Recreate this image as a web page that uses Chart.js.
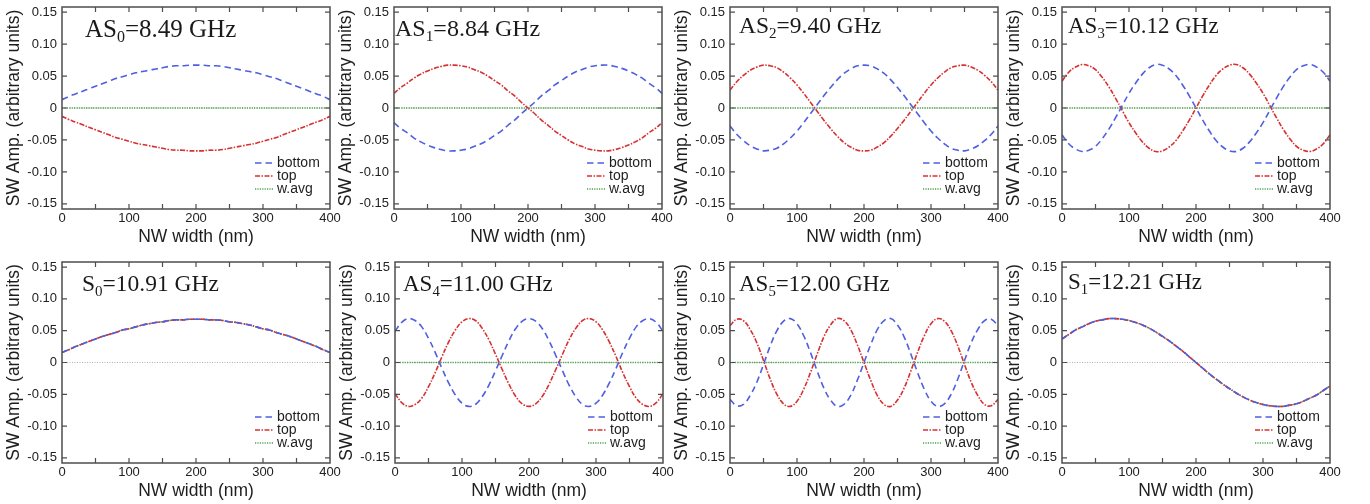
<!DOCTYPE html>
<html>
<head>
<meta charset="utf-8">
<script src="https://cdn.jsdelivr.net/npm/chart.js@4.4.1/dist/chart.umd.min.js"></script>
<style>
  html, body { margin: 0; padding: 0; background: #fff; }
  body { width: 1370px; height: 504px; position: relative; overflow: hidden; }
  canvas { position: absolute; }
</style>
</head>
<body>
<script>
// NW width sample positions (nm)
var widths = [0,10,20,30,40,50,60,70,80,90,100,110,120,130,140,150,160,170,180,190,200,
              210,220,230,240,250,260,270,280,290,300,310,320,330,340,350,360,370,380,390,400];

// SW amplitude (bottom / top / weighted average)
var as0_bottom = [0.013,0.018,0.022,0.026,0.030,0.034,0.038,0.042,0.046,0.049,0.052,0.055,0.057,0.059,0.061,0.063,0.065,0.066,0.066,0.067,0.067,0.067,0.066,0.066,0.065,0.063,0.061,0.059,0.057,0.055,0.052,0.049,0.046,0.042,0.038,0.034,0.030,0.026,0.022,0.018,0.013];
var as0_top = [-0.013,-0.018,-0.022,-0.026,-0.030,-0.034,-0.038,-0.042,-0.046,-0.049,-0.052,-0.055,-0.057,-0.059,-0.061,-0.063,-0.065,-0.066,-0.066,-0.067,-0.067,-0.067,-0.066,-0.066,-0.065,-0.063,-0.061,-0.059,-0.057,-0.055,-0.052,-0.049,-0.046,-0.042,-0.038,-0.034,-0.030,-0.026,-0.022,-0.018,-0.013];
var as0_avg = [0,0,0,0,0,0,0,0,0,0,0,0,0,0,0,0,0,0,0,0,0,0,0,0,0,0,0,0,0,0,0,0,0,0,0,0,0,0,0,0,0];

var as1_bottom = [-0.023,-0.032,-0.039,-0.047,-0.053,-0.058,-0.062,-0.065,-0.067,-0.067,-0.066,-0.064,-0.060,-0.056,-0.050,-0.043,-0.036,-0.027,-0.019,-0.009,0,0.009,0.019,0.027,0.036,0.043,0.050,0.056,0.060,0.064,0.066,0.067,0.067,0.065,0.062,0.058,0.053,0.047,0.039,0.032,0.023];
var as1_top = [0.023,0.032,0.039,0.047,0.053,0.058,0.062,0.065,0.067,0.067,0.066,0.064,0.060,0.056,0.050,0.043,0.036,0.027,0.019,0.009,0,-0.009,-0.019,-0.027,-0.036,-0.043,-0.050,-0.056,-0.060,-0.064,-0.066,-0.067,-0.067,-0.065,-0.062,-0.058,-0.053,-0.047,-0.039,-0.032,-0.023];
var as1_avg = [0,0,0,0,0,0,0,0,0,0,0,0,0,0,0,0,0,0,0,0,0,0,0,0,0,0,0,0,0,0,0,0,0,0,0,0,0,0,0,0,0];

var as2_bottom = [-0.028,-0.041,-0.051,-0.059,-0.064,-0.067,-0.066,-0.063,-0.056,-0.047,-0.036,-0.023,-0.009,0.005,0.019,0.032,0.044,0.054,0.061,0.066,0.067,0.066,0.061,0.054,0.044,0.032,0.019,0.005,-0.009,-0.023,-0.036,-0.047,-0.056,-0.063,-0.066,-0.067,-0.064,-0.059,-0.051,-0.041,-0.028];
var as2_top = [0.028,0.041,0.051,0.059,0.064,0.067,0.066,0.063,0.056,0.047,0.036,0.023,0.009,-0.005,-0.019,-0.032,-0.044,-0.054,-0.061,-0.066,-0.067,-0.066,-0.061,-0.054,-0.044,-0.032,-0.019,-0.005,0.009,0.023,0.036,0.047,0.056,0.063,0.066,0.067,0.064,0.059,0.051,0.041,0.028];
var as2_avg = [0,0,0,0,0,0,0,0,0,0,0,0,0,0,0,0,0,0,0,0,0,0,0,0,0,0,0,0,0,0,0,0,0,0,0,0,0,0,0,0,0];

var as3_bottom = [-0.042,-0.056,-0.064,-0.068,-0.066,-0.060,-0.048,-0.033,-0.015,0.004,0.023,0.039,0.053,0.063,0.068,0.067,0.061,0.051,0.036,0.019,0,-0.019,-0.036,-0.051,-0.061,-0.067,-0.068,-0.063,-0.053,-0.039,-0.023,-0.004,0.015,0.033,0.048,0.060,0.066,0.068,0.064,0.056,0.042];
var as3_top = [0.042,0.056,0.064,0.068,0.066,0.060,0.048,0.033,0.015,-0.004,-0.023,-0.039,-0.053,-0.063,-0.068,-0.067,-0.061,-0.051,-0.036,-0.019,0,0.019,0.036,0.051,0.061,0.067,0.068,0.063,0.053,0.039,0.023,0.004,-0.015,-0.033,-0.048,-0.060,-0.066,-0.068,-0.064,-0.056,-0.042];
var as3_avg = [0,0,0,0,0,0,0,0,0,0,0,0,0,0,0,0,0,0,0,0,0,0,0,0,0,0,0,0,0,0,0,0,0,0,0,0,0,0,0,0,0];

var s0_bottom = [0.016,0.020,0.025,0.029,0.033,0.037,0.041,0.044,0.047,0.051,0.053,0.056,0.059,0.061,0.063,0.064,0.066,0.067,0.067,0.068,0.068,0.068,0.067,0.067,0.066,0.064,0.063,0.061,0.059,0.056,0.053,0.051,0.047,0.044,0.041,0.037,0.033,0.029,0.025,0.020,0.016];
var s0_top = [0.016,0.020,0.025,0.029,0.033,0.037,0.041,0.044,0.047,0.051,0.053,0.056,0.059,0.061,0.063,0.064,0.066,0.067,0.067,0.068,0.068,0.068,0.067,0.067,0.066,0.064,0.063,0.061,0.059,0.056,0.053,0.051,0.047,0.044,0.041,0.037,0.033,0.029,0.025,0.020,0.016];
var s0_avg = [0.016,0.020,0.025,0.029,0.033,0.037,0.041,0.044,0.047,0.051,0.053,0.056,0.059,0.061,0.063,0.064,0.066,0.067,0.067,0.068,0.068,0.068,0.067,0.067,0.066,0.064,0.063,0.061,0.059,0.056,0.053,0.051,0.047,0.044,0.041,0.037,0.033,0.029,0.025,0.020,0.016];

var as4_bottom = [0.049,0.063,0.069,0.066,0.056,0.038,0.016,-0.009,-0.032,-0.051,-0.064,-0.069,-0.066,-0.054,-0.036,-0.013,0.011,0.034,0.053,0.065,0.069,0.065,0.053,0.034,0.011,-0.013,-0.036,-0.054,-0.066,-0.069,-0.064,-0.051,-0.032,-0.009,0.016,0.038,0.056,0.066,0.069,0.063,0.049];
var as4_top = [-0.049,-0.063,-0.069,-0.066,-0.056,-0.038,-0.016,0.009,0.032,0.051,0.064,0.069,0.066,0.054,0.036,0.013,-0.011,-0.034,-0.053,-0.065,-0.069,-0.065,-0.053,-0.034,-0.011,0.013,0.036,0.054,0.066,0.069,0.064,0.051,0.032,0.009,-0.016,-0.038,-0.056,-0.066,-0.069,-0.063,-0.049];
var as4_avg = [0,0,0,0,0,0,0,0,0,0,0,0,0,0,0,0,0,0,0,0,0,0,0,0,0,0,0,0,0,0,0,0,0,0,0,0,0,0,0,0,0];

var as5_bottom = [-0.058,-0.068,-0.066,-0.052,-0.031,-0.003,0.026,0.050,0.065,0.069,0.061,0.042,0.016,-0.013,-0.040,-0.059,-0.069,-0.066,-0.052,-0.028,0,0.028,0.052,0.066,0.069,0.059,0.040,0.013,-0.016,-0.042,-0.061,-0.069,-0.065,-0.050,-0.026,0.003,0.031,0.052,0.066,0.068,0.058];
var as5_top = [0.058,0.068,0.066,0.052,0.031,0.003,-0.026,-0.050,-0.065,-0.069,-0.061,-0.042,-0.016,0.013,0.040,0.059,0.069,0.066,0.052,0.028,0,-0.028,-0.052,-0.066,-0.069,-0.059,-0.040,-0.013,0.016,0.042,0.061,0.069,0.065,0.050,0.026,-0.003,-0.031,-0.052,-0.066,-0.068,-0.058];
var as5_avg = [0,0,0,0,0,0,0,0,0,0,0,0,0,0,0,0,0,0,0,0,0,0,0,0,0,0,0,0,0,0,0,0,0,0,0,0,0,0,0,0,0];

var s1_bottom = [0.037,0.044,0.051,0.056,0.061,0.065,0.067,0.069,0.069,0.068,0.066,0.063,0.059,0.054,0.048,0.041,0.034,0.026,0.018,0.009,0,-0.009,-0.018,-0.026,-0.034,-0.041,-0.048,-0.054,-0.059,-0.063,-0.066,-0.068,-0.069,-0.069,-0.067,-0.065,-0.061,-0.056,-0.051,-0.044,-0.037];
var s1_top = [0.037,0.044,0.051,0.056,0.061,0.065,0.067,0.069,0.069,0.068,0.066,0.063,0.059,0.054,0.048,0.041,0.034,0.026,0.018,0.009,0,-0.009,-0.018,-0.026,-0.034,-0.041,-0.048,-0.054,-0.059,-0.063,-0.066,-0.068,-0.069,-0.069,-0.067,-0.065,-0.061,-0.056,-0.051,-0.044,-0.037];
var s1_avg = [0.037,0.044,0.051,0.056,0.061,0.065,0.067,0.069,0.069,0.068,0.066,0.063,0.059,0.054,0.048,0.041,0.034,0.026,0.018,0.009,0,-0.009,-0.018,-0.026,-0.034,-0.041,-0.048,-0.054,-0.059,-0.063,-0.066,-0.068,-0.069,-0.069,-0.067,-0.065,-0.061,-0.056,-0.051,-0.044,-0.037];

// mode labels
var modeNames = ['AS', 'AS', 'AS', 'AS', 'S', 'AS', 'AS', 'S'];
var modeIndex = ['0', '1', '2', '3', '0', '4', '5', '1'];
var modeFreqs = ['8.49', '8.84', '9.40', '10.12', '10.91', '11.00', '12.00', '12.21'];
var seriesLabels = ['bottom', 'top', 'w.avg'];

var bottoms = [as0_bottom, as1_bottom, as2_bottom, as3_bottom, s0_bottom, as4_bottom, as5_bottom, s1_bottom];
var tops = [as0_top, as1_top, as2_top, as3_top, s0_top, as4_top, as5_top, s1_top];
var avgs = [as0_avg, as1_avg, as2_avg, as3_avg, s0_avg, as4_avg, as5_avg, s1_avg];

// axes
var xTicks = [0, 100, 200, 300, 400];
var xMarks = [50, 100, 150, 200, 250, 300, 350];
var yTicks = [0.15, 0.10, 0.05, 0, -0.05, -0.10, -0.15];
var yTickLabels = ['0.15', '0.10', '0.05', '0', '-0.05', '-0.10', '-0.15'];

// layout of the 2x4 grid (plot area positions in page pixels)
var colLeft = [[62, 394, 730, 1062], [62, 395, 730, 1062]];
var rowTop = [7, 262];
var plotH = [202, 201];
var plotW = 268;
var padTop = 14;
var labelDx = [23, 1, 9, 6, 20, 8, 9, 6];
var labelDy = [30, 29, 26, 26, 29, 29, 29, 27];
var labelSize = [25, 24, 23.5, 23, 23.5, 23, 23, 23];

var SANS = "'Liberation Sans', Arial, Helvetica, sans-serif";
var SERIF = "'Liberation Serif', 'Times New Roman', serif";
var colors = ['#4f5fe2', '#d83030', '#4aa64a'];
var dashes = [[6.5, 4], [5, 1.5, 1.5, 1.5], [1.2, 1.2]];

Chart.defaults.font.family = SANS;

var framePlugin = {
    id: 'frame',
    beforeDraw: function(chart) {
        var o = chart.options.plugins.frame;
        if (o.cover != null) {
            var ctx = chart.ctx;
            ctx.save();
            ctx.fillStyle = '#fff';
            ctx.fillRect(o.cover, 0, chart.width - o.cover, chart.height);
            ctx.restore();
        }
    },
    beforeDatasetsDraw: function(chart) {
        var ctx = chart.ctx, a = chart.chartArea;
        var y0 = chart.scales.y.getPixelForValue(0);
        ctx.save();
        ctx.strokeStyle = '#b0b0b0';
        ctx.lineWidth = 1;
        ctx.setLineDash([1, 1.5]);
        ctx.beginPath();
        ctx.moveTo(a.left, y0);
        ctx.lineTo(a.right, y0);
        ctx.stroke();
        ctx.restore();
    },
    afterDatasetsDraw: function(chart) {
        var ctx = chart.ctx, a = chart.chartArea;
        var sx = chart.scales.x, sy = chart.scales.y;
        var o = chart.options.plugins.frame;
        ctx.save();
        ctx.strokeStyle = '#4d4d4d';
        ctx.lineWidth = 1.5;
        ctx.strokeRect(a.left, a.top, a.right - a.left, a.bottom - a.top);
        ctx.lineWidth = 1.2;
        ctx.beginPath();
        xMarks.forEach(function(v) {
            var px = sx.getPixelForValue(v);
            ctx.moveTo(px, a.bottom); ctx.lineTo(px, a.bottom - 5);
            ctx.moveTo(px, a.top); ctx.lineTo(px, a.top + 5);
        });
        yTicks.forEach(function(v) {
            var py = sy.getPixelForValue(v);
            ctx.moveTo(a.left, py); ctx.lineTo(a.left + 5, py);
            ctx.moveTo(a.right, py); ctx.lineTo(a.right - 5, py);
        });
        ctx.stroke();

        // legend, bottom right inside the frame
        var rows = [46, 33, 20];
        chart.data.datasets.forEach(function(ds, k) {
            var y = a.bottom - rows[k];
            ctx.strokeStyle = ds.borderColor;
            ctx.lineWidth = ds.borderWidth;
            ctx.setLineDash(ds.borderDash);
            ctx.beginPath();
            ctx.moveTo(a.right - 75, y);
            ctx.lineTo(a.right - 56, y);
            ctx.stroke();
            ctx.setLineDash([]);
            ctx.fillStyle = '#1e1e1e';
            ctx.font = '14px ' + SANS;
            ctx.textBaseline = 'middle';
            ctx.textAlign = 'left';
            ctx.fillText(ds.label, a.right - 53, y);
        });

        // mode name and frequency
        var size = o.labelSize;
        var x = a.left + o.dx, y = a.top + o.dy;
        ctx.fillStyle = '#1a1a1a';
        ctx.textBaseline = 'alphabetic';
        ctx.font = size + 'px ' + SERIF;
        ctx.fillText(o.name, x, y);
        x += ctx.measureText(o.name).width;
        ctx.font = (size * 0.64) + 'px ' + SERIF;
        ctx.fillText(o.sub, x, y + size * 0.2);
        x += ctx.measureText(o.sub).width;
        ctx.font = size + 'px ' + SERIF;
        ctx.fillText('=' + o.freq + ' GHz', x, y);
        ctx.restore();
    }
};

function toPoints(vals) {
    return widths.map(function(w, i) { return { x: w, y: vals[i] }; });
}

function makePanel(i) {
    var row = Math.floor(i / 4), col = i % 4;
    var left = colLeft[row][col], top = rowTop[row];
    var canvas = document.createElement('canvas');
    var w = 62 + plotW + 16, h = padTop + plotH[row] + 46;
    canvas.width = w;
    canvas.height = h;
    canvas.style.left = (left - 62) + 'px';
    canvas.style.top = (top - padTop) + 'px';
    canvas.style.width = w + 'px';
    canvas.style.height = h + 'px';
    document.body.appendChild(canvas);

    var series = [bottoms[i], tops[i], avgs[i]];
    var datasets = series.map(function(vals, k) {
        return {
            label: seriesLabels[k],
            data: toPoints(vals),
            borderColor: colors[k],
            borderWidth: k == 2 ? 1.4 : 1.6,
            borderDash: dashes[k],
            pointRadius: 0,
            tension: 0.4,
            fill: false
        };
    });

    new Chart(canvas.getContext('2d'), {
        type: 'line',
        data: { datasets: datasets },
        plugins: [framePlugin],
        options: {
            responsive: false,
            animation: false,
            devicePixelRatio: 1,
            layout: { padding: { top: padTop, right: 16, left: 0, bottom: 0 } },
            plugins: {
                legend: { display: false },
                tooltip: { enabled: false },
                frame: {
                    cover: col == 3 ? 9 : null,
                    name: modeNames[i], sub: modeIndex[i], freq: modeFreqs[i],
                    dx: labelDx[i], dy: labelDy[i], labelSize: labelSize[i]
                }
            },
            scales: {
                x: {
                    type: 'linear', min: 0, max: 400,
                    afterBuildTicks: function(s) { s.ticks = xTicks.map(function(v) { return { value: v }; }); },
                    afterFit: function(s) { s.height = 46; },
                    grid: { display: false, drawTicks: false },
                    border: { display: false },
                    ticks: { autoSkip: false, maxRotation: 0, padding: 2, color: '#222', font: { size: 13 } },
                    title: { display: true, text: 'NW width (nm)', color: '#1e1e1e', font: { size: 17.5 }, padding: { top: 0, bottom: 7 } }
                },
                y: {
                    type: 'linear', min: -0.158, max: 0.158,
                    afterBuildTicks: function(s) { s.ticks = yTicks.map(function(v) { return { value: v }; }); },
                    afterFit: function(s) { s.width = 62; },
                    grid: { display: false, drawTicks: false },
                    border: { display: false },
                    ticks: {
                        autoSkip: false, padding: 5, color: '#222', font: { size: 13 },
                        callback: function(v, idx) { return yTickLabels[idx]; }
                    },
                    title: { display: true, text: 'SW Amp. (arbitrary units)', color: '#1e1e1e', font: { size: 17.5 }, padding: { top: 3.5, bottom: 0 } }
                }
            }
        }
    });
}

for (var i = 0; i < 8; i++) makePanel(i);
</script>
</body>
</html>
